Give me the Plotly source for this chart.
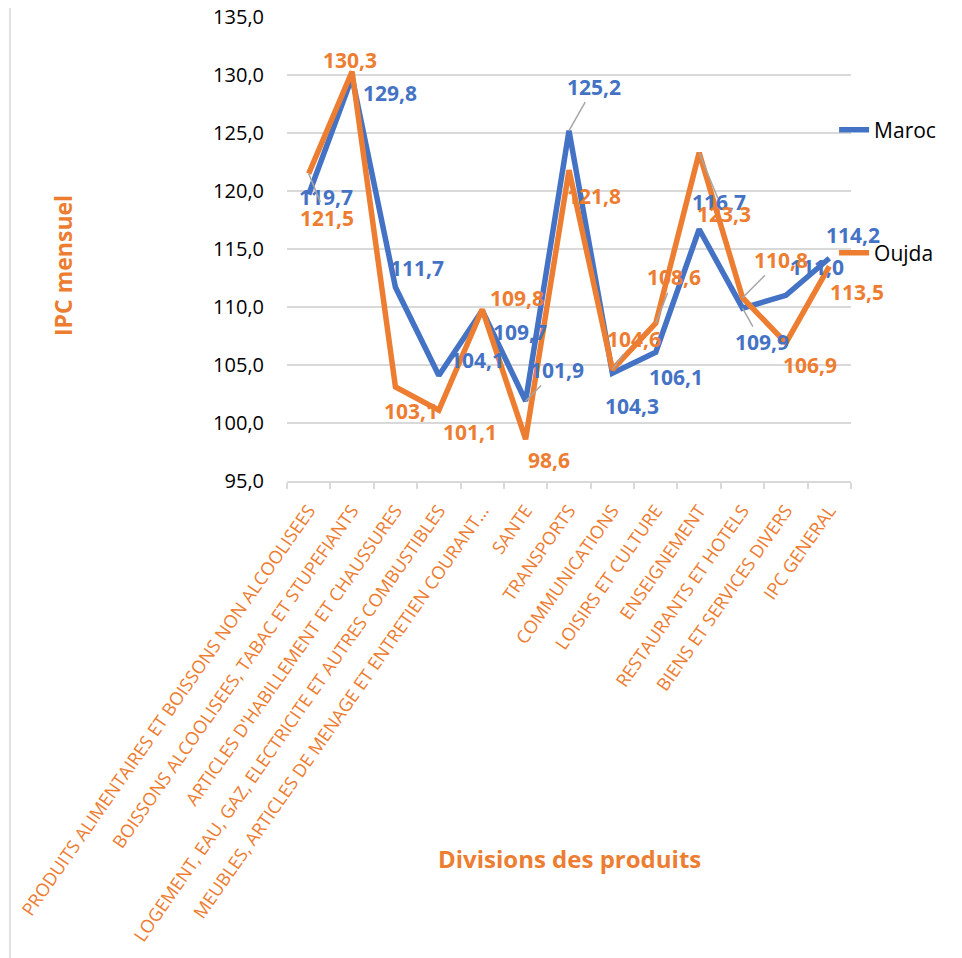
import plotly.graph_objects as go

categories = [
    "PRODUITS ALIMENTAIRES ET BOISSONS NON ALCOOLISEES",
    "BOISSONS ALCOOLISEES, TABAC ET STUPEFIANTS",
    "ARTICLES D'HABILLEMENT ET CHAUSSURES",
    "LOGEMENT, EAU, GAZ, ELECTRICITE ET AUTRES COMBUSTIBLES",
    "MEUBLES, ARTICLES DE MENAGE ET ENTRETIEN COURANT…",
    "SANTE",
    "TRANSPORTS",
    "COMMUNICATIONS",
    "LOISIRS ET CULTURE",
    "ENSEIGNEMENT",
    "RESTAURANTS ET HOTELS",
    "BIENS ET SERVICES DIVERS",
    "IPC GENERAL",
]
maroc = [119.7, 129.8, 111.7, 104.1, 109.7, 101.9, 125.2, 104.3, 106.1, 116.7, 109.9, 111.0, 114.2]
oujda = [121.5, 130.3, 103.1, 101.1, 109.8, 98.6, 121.8, 104.6, 108.6, 123.3, 110.8, 106.9, 113.5]

# label offsets in pixels (dx right, dy down) and leader-line flags
maroc_dx = [17, 38, 22, 38, 38, 31, 25, 20, 20, 20, 19, 31, 24]
maroc_dy = [3, 16, -19, -15, 22, -31, -44, 33, 25, -27, 34, -28, -23]
maroc_leader = [0, 0, 0, 0, 0, 1, 1, 1, 0, 0, 1, 0, 0]
oujda_dx = [18, -2, 16, 31, 35, 23, 25, 22, 18, 25, 38, 24, 28]
oujda_dy = [44, -12, 24, 22, -11, 21, 26, -31, -46, 61, -38, 22, 26]
oujda_leader = [1, 0, 0, 0, 0, 0, 0, 1, 1, 1, 1, 0, 0]

BLUE = "#4472C4"
ORANGE = "#ED7D31"
FONT = "Open Sans"

fig = go.Figure()
fig.add_trace(go.Scatter(x=categories, y=maroc, mode="lines", name="Maroc",
                         line=dict(color=BLUE, width=5.5), legend="legend", showlegend=True))
fig.add_trace(go.Scatter(x=categories, y=oujda, mode="lines", name="Oujda",
                         line=dict(color=ORANGE, width=5.5), legend="legend2", showlegend=True))

annotations = []
def add_labels(vals, dxs, dys, leaders, color):
    for c, v, dx, dy, ld in zip(categories, vals, dxs, dys, leaders):
        txt = f"{v:.1f}".replace(".", ",")
        font = dict(family=FONT, size=21, color=color, weight="bold")
        if ld:
            annotations.append(dict(x=c, y=v, xref="x", yref="y", text=txt,
                                    showarrow=True, arrowhead=0, arrowwidth=1.5,
                                    arrowcolor="#A6A6A6", ax=dx, ay=dy, font=font))
        else:
            annotations.append(dict(x=c, y=v, xref="x", yref="y", text=txt,
                                    showarrow=False, xshift=dx, yshift=-dy, font=font))

add_labels(maroc, maroc_dx, maroc_dy, maroc_leader, BLUE)
add_labels(oujda, oujda_dx, oujda_dy, oujda_leader, ORANGE)

annotations.append(dict(text="IPC mensuel", xref="paper", yref="paper",
                        x=(63 - 287) / 564, y=(481 - 266) / 464, textangle=-90,
                        showarrow=False, xanchor="center", yanchor="middle",
                        font=dict(family=FONT, size=23, color=ORANGE, weight="bold")))
annotations.append(dict(text="Divisions des produits", xref="paper", yref="paper",
                        x=(569 - 287) / 564, y=(481 - 858) / 464,
                        showarrow=False, xanchor="center", yanchor="middle",
                        font=dict(family=FONT, size=24, color=ORANGE, weight="bold")))

# the page body adds an 8 px offset, so the figure is 8 px smaller on each side
fig.update_layout(
    width=954, height=950,
    margin=dict(l=279, r=111, t=9, b=477, autoexpand=False),
    plot_bgcolor="white", paper_bgcolor="white",
    separators=", ",
    font=dict(family=FONT),
    annotations=annotations,
    legend=dict(x=0.97, y=(481 - 130) / 464, xanchor="left", yanchor="middle",
                font=dict(family=FONT, size=21, color="black"), bgcolor="rgba(0,0,0,0)"),
    legend2=dict(x=0.97, y=(481 - 253) / 464, xanchor="left", yanchor="middle",
                 font=dict(family=FONT, size=21, color="black"), bgcolor="rgba(0,0,0,0)"),
    shapes=[dict(type="line", xref="paper", yref="paper",
                 x0=(10 - 287) / 564, x1=(10 - 287) / 564, y0=490 / 464, y1=(481 - 958) / 464,
                 line=dict(color="#D9D9D9", width=1.5))],
)
fig.update_xaxes(
    type="category", range=[-0.5, len(categories) - 0.5], autorange=False,
    tickangle=-55, showgrid=False, automargin=False,
    showline=True, linecolor="#D9D9D9", linewidth=2,
    ticks="outside", tickson="boundaries", ticklen=6, tickcolor="#D9D9D9", tickwidth=2,
    tickfont=dict(family=FONT, size=18, color=ORANGE), ticklabelstandoff=10,
)
fig.update_yaxes(
    range=[95, 135], autorange=False, dtick=5, tick0=95, tickformat=".1f", automargin=False,
    showgrid=True, gridcolor="#D9D9D9", gridwidth=2, zeroline=False, showline=False,
    tickfont=dict(family=FONT, size=20, color="black"), ticklabelstandoff=22,
    ticklabeloverflow="allow",
)

fig.write_html("out.html")
